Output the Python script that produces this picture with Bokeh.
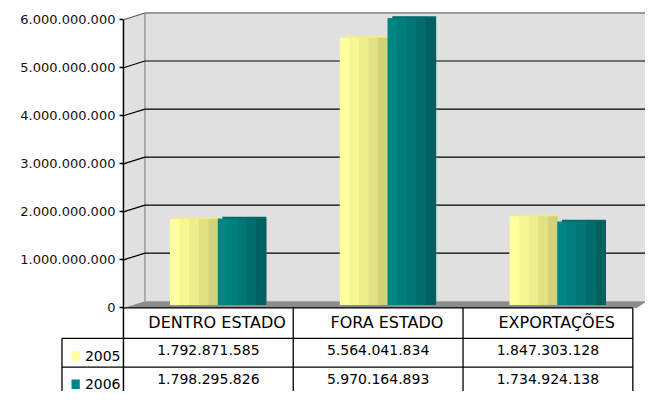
from bokeh.plotting import figure
from bokeh.models import Range1d, LinearAxis, FixedTicker, ColumnDataSource
from bokeh.core.properties import value
from bokeh.embed import file_html
from bokeh.resources import INLINE

# ---------------- data ----------------
CATEGORIES = ["DENTRO ESTADO", "FORA ESTADO", "EXPORTAÇÕES"]
SERIES = ["2005", "2006"]
VALUES_2005 = [1792871585, 5564041834, 1847303128]
VALUES_2006 = [1798295826, 5970164893, 1734924138]
TICK_VALUES = [0, 1000000000, 2000000000, 3000000000, 4000000000, 5000000000, 6000000000]
TICK_LABELS = ["0", "1.000.000.000", "2.000.000.000", "3.000.000.000",
               "4.000.000.000", "5.000.000.000", "6.000.000.000"]

# ---------------- layout helpers (reference pixel space -> data) ----------------
W, H = 645, 391
COL_PX = 174.0
AXIS_X_PX = 126.0
ZERO_Y_PX = 320.0
VAL_PER_PX = 1e9 / 50.0


def dx(px):
    return px / COL_PX


def xr(px):
    return (px - AXIS_X_PX) / COL_PX - 0.5


def yr(py):
    return (ZERO_Y_PX - py) * VAL_PER_PX


FONT = value("DejaVu Sans")
BAR_SHIFT = yr(317)
BACK_SHIFT = yr(315)

p = figure(width=W, height=H, x_range=Range1d(xr(0), xr(661)), y_range=Range1d(yr(407), yr(0)),
           output_backend="svg", toolbar_location=None, x_axis_type=None, y_axis_type=None,
           min_border=0, outline_line_color=None, background_fill_color="white",
           border_fill_color="white")
p.extra_y_ranges = {
    "bars": Range1d(yr(407) - BAR_SHIFT, yr(0) - BAR_SHIFT),
    "back": Range1d(yr(407) - BACK_SHIFT, yr(0) - BACK_SHIFT),
}

# ---------------- 3D walls ----------------
p.patch([xr(v) for v in [126, 126, 148, 661, 661, 148]],
        [yr(v) for v in [320, 20, 13.5, 13.5, 313, 313]],
        fill_color="#e0e0e0", line_color=None)
p.patch([xr(v) for v in [126, 148, 661, 661, 652, 126]],
        [yr(v) for v in [320, 313, 313, 314, 320, 320]],
        fill_color="#8c8c8c", line_color=None)
p.segment(x0=[xr(148)], y0=[yr(13.5)], x1=[xr(148)], y1=[yr(313)], line_color="#9a9a9a", line_width=1.5)

WALL_OFF = 7 * VAL_PER_PX
inner = TICK_VALUES[1:-1]
p.segment(x0=[xr(148)] * len(inner), y0=[v + WALL_OFF for v in inner],
          x1=[xr(661)] * len(inner), y1=[v + WALL_OFF for v in inner],
          line_color="black", line_width=1.2)
p.segment(x0=[xr(126)] * len(inner), y0=inner,
          x1=[xr(148)] * len(inner), y1=[v + WALL_OFF for v in inner],
          line_color="black", line_width=1.2)
top = TICK_VALUES[-1]
p.segment(x0=[xr(148)], y0=[top + WALL_OFF], x1=[xr(661)], y1=[top + WALL_OFF],
          line_color="#9a9a9a", line_width=2)
p.segment(x0=[xr(126)], y0=[top], x1=[xr(148)], y1=[top + WALL_OFF],
          line_color="#555555", line_width=1.2)

# ---------------- bars (shaded cylinders) ----------------
BAR_W = 49.0
N_STRIPS = 5
STRIP_COLORS = [
    ["#ffff9c", "#f7f794", "#eeee8c", "#e2e285", "#d2d27a"],
    ["#008585", "#007e7e", "#007676", "#006c6c", "#005f5f"],
]
BACK_COLORS = ["#ecec96", "#006a6a"]
for s, vals in enumerate([VALUES_2005, VALUES_2006]):
    offset = (-BAR_W / 2 if s == 0 else BAR_W / 2) + 10
    xs = [i + dx(offset) for i in range(len(CATEGORIES))]
    # back face (gives the 3D top edge)
    p.vbar(x=[x + dx(2.5) for x in xs], top=vals, bottom=0, width=dx(BAR_W - 4),
           fill_color=BACK_COLORS[s], line_color=None, y_range_name="back")
    # base in middle tone so no gaps show between strips
    p.vbar(x=xs, top=vals, bottom=0, width=dx(BAR_W),
           fill_color=STRIP_COLORS[s][2], line_color=None, y_range_name="bars")
    for k in range(N_STRIPS):
        sw = BAR_W / N_STRIPS
        cx = offset - BAR_W / 2 + (k + 0.5) * sw
        src = ColumnDataSource(dict(x=[i + dx(cx) for i in range(len(CATEGORIES))], top=vals))
        p.vbar(x="x", top="top", bottom=0, width=dx(sw + 0.6), source=src,
               fill_color=STRIP_COLORS[s][k], line_color=None, y_range_name="bars")

# ---------------- axis ----------------
p.segment(x0=[xr(126)], y0=[TICK_VALUES[-1]], x1=[xr(126)], y1=[yr(407)], line_color="black", line_width=1.5)
yaxis = LinearAxis(fixed_location=xr(126), ticker=FixedTicker(ticks=TICK_VALUES),
                   major_label_overrides={v: l for v, l in zip(TICK_VALUES, TICK_LABELS)})
yaxis.axis_line_color = None
yaxis.major_tick_out = 4
yaxis.major_tick_in = 0
yaxis.minor_tick_out = 0
yaxis.minor_tick_in = 0
yaxis.major_tick_line_color = "black"
yaxis.major_tick_line_width = 1.5
yaxis.major_label_text_font = "DejaVu Sans"
yaxis.major_label_text_font_size = "13px"
yaxis.major_label_text_color = "#111111"
yaxis.major_label_standoff = 4
p.add_layout(yaxis, "left")

# ---------------- data table ----------------
n = len(CATEGORIES)
p.segment(x0=[xr(126)], y0=[yr(320)], x1=[n - 0.5], y1=[yr(320)], line_color="black", line_width=1.3)
for ry in [351.7, 381.7]:
    p.segment(x0=[xr(63)], y0=[yr(ry)], x1=[n - 0.5], y1=[yr(ry)], line_color="black", line_width=1.3)
p.segment(x0=[i + 0.5 for i in range(n)], y0=[yr(320)] * n,
          x1=[i + 0.5 for i in range(n)], y1=[yr(407)] * n, line_color="black", line_width=1.3)
p.segment(x0=[xr(63)], y0=[yr(351.7)], x1=[xr(63)], y1=[yr(407)], line_color="black", line_width=1.3)

p.text(x=[i + dx(9) for i in range(n)], y=[yr(335.5)] * n, text=CATEGORIES,
       text_font=FONT, text_font_size="16px", text_color="black",
       text_align="center", text_baseline="middle")


def fmt(v):
    return f"{v:,}".replace(",", ".")


ROW_Y = [yr(363.5), yr(394)]
LEG_Y = [yr(370), yr(399.5)]
for s, vals in enumerate([VALUES_2005, VALUES_2006]):
    p.text(x=list(range(n)), y=[ROW_Y[s]] * n, text=[fmt(v) for v in vals],
           text_font=FONT, text_font_size="14px", text_color="black",
           text_align="center", text_baseline="middle")
    p.rect(x=[xr(77)], y=[LEG_Y[s]], width=dx(8.5), height=10 * VAL_PER_PX,
           fill_color=STRIP_COLORS[s][0], line_color=None)
    p.text(x=[xr(123)], y=[LEG_Y[s]], text=[SERIES[s]], text_font=FONT, text_font_size="14px",
           text_color="black", text_align="right", text_baseline="middle")

open("out.html", "w").write(file_html(p, INLINE))
